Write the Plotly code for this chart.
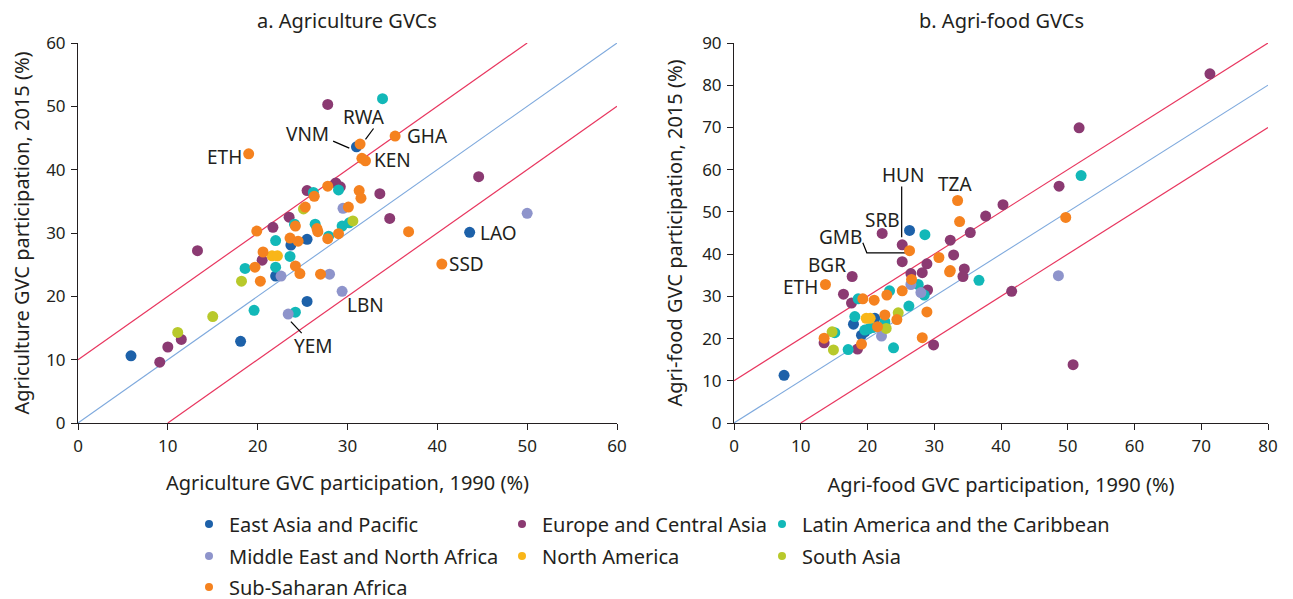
import plotly.graph_objects as go

# ---------------- data ----------------
regions = ["East Asia and Pacific", "Europe and Central Asia", "Latin America and the Caribbean",
           "Middle East and North Africa", "North America", "South Asia", "Sub-Saharan Africa"]
colors = ["#1d61a9", "#8b3a72", "#12b8b8", "#8e94cb", "#f9b619", "#b8c92b", "#f5821f"]

# Panel a: Agriculture GVCs (x = 1990, y = 2015)
a_eap_x = [5.9, 18.1, 25.5, 22.0, 23.7, 25.5, 31.0, 43.6]
a_eap_y = [10.6, 12.9, 19.2, 23.2, 28.1, 29.0, 43.6, 30.1]
a_eca_x = [13.3, 9.1, 10.0, 11.5, 20.5, 21.7, 23.5, 25.5, 28.7, 29.2, 33.6, 34.7, 27.8, 44.6]
a_eca_y = [27.2, 9.6, 12.0, 13.2, 25.7, 30.9, 32.5, 36.7, 37.9, 37.3, 36.2, 32.3, 50.3, 38.9]
a_lac_x = [19.6, 18.6, 22.0, 23.6, 24.2, 22.0, 24.1, 26.4, 27.9, 29.4, 30.2, 26.2, 29.0, 33.9]
a_lac_y = [17.8, 24.4, 24.6, 26.3, 17.5, 28.8, 31.4, 31.4, 29.5, 31.1, 31.6, 36.4, 36.8, 51.2]
a_mena_x = [22.6, 28.0, 29.4, 23.4, 29.5, 50.0]
a_mena_y = [23.2, 23.5, 20.8, 17.2, 33.9, 33.1]
a_na_x = [21.6, 22.2]
a_na_y = [26.4, 26.4]
a_sa_x = [11.1, 15.0, 18.2, 25.1, 30.6]
a_sa_y = [14.3, 16.8, 22.4, 33.8, 31.9]
a_ssa_x = [19.0, 31.4, 31.6, 32.0, 35.3, 27.8, 26.3, 31.3, 31.5, 25.3, 30.1, 24.2, 19.9, 26.6,
           26.7, 29.0, 27.8, 23.6, 24.5, 20.6, 19.7, 20.3, 24.2, 24.7, 27.0, 36.8, 40.5]
a_ssa_y = [42.5, 44.05, 41.8, 41.4, 45.3, 37.4, 35.8, 36.7, 35.5, 34.1, 34.1, 31.1, 30.3, 30.7,
           30.2, 29.9, 29.1, 29.2, 28.7, 27.0, 24.6, 22.4, 24.8, 23.6, 23.5, 30.2, 25.1]

# Panel b: Agri-food GVCs
b_eap_x = [7.5, 17.9, 21.1, 19.1, 19.6, 26.3]
b_eap_y = [11.3, 23.4, 24.8, 20.8, 21.6, 45.6]
b_eca_x = [71.3, 51.7, 48.7, 40.3, 37.7, 35.4, 32.4, 32.9, 34.5, 34.3, 41.6, 50.8, 22.2, 25.2,
           25.2, 28.9, 28.2, 26.5, 29.0, 17.7, 16.4, 17.6, 13.5, 18.5, 29.9]
b_eca_y = [82.7, 69.9, 56.1, 51.7, 49.0, 45.1, 43.3, 39.8, 36.5, 34.7, 31.2, 13.8, 44.9, 42.2,
           38.2, 37.7, 35.6, 35.4, 31.5, 34.7, 30.5, 28.4, 19.0, 17.5, 18.5]
b_lac_x = [52.0, 36.7, 28.6, 27.6, 28.5, 23.3, 18.6, 26.2, 22.6, 18.1, 19.6, 20.2, 20.8, 15.1, 17.1, 23.9]
b_lac_y = [58.6, 33.8, 44.6, 32.8, 30.3, 31.3, 29.4, 27.7, 24.0, 25.2, 22.0, 22.3, 22.6, 21.4, 17.4, 17.8]
b_mena_x = [48.6, 26.5, 28.0, 22.1]
b_mena_y = [34.9, 32.8, 30.9, 20.6]
b_na_x = [19.8, 20.4]
b_na_y = [24.8, 24.8]
b_sa_x = [24.6, 22.8, 14.7, 14.9]
b_sa_y = [26.1, 22.4, 21.6, 17.3]
b_ssa_x = [33.5, 33.8, 49.7, 32.4, 26.3, 30.7, 13.7, 32.3, 26.6, 22.9, 25.2, 21.0, 19.3, 28.9,
           24.4, 22.6, 21.5, 13.5, 19.1, 28.2]
b_ssa_y = [52.7, 47.7, 48.7, 36.1, 40.8, 39.2, 32.8, 35.8, 34.0, 30.3, 31.3, 29.1, 29.4, 26.3,
           24.5, 25.6, 22.8, 20.1, 18.7, 20.2]

# Reference lines (45-degree line and +/-10 pp bands)
a_diag_x, a_diag_y = [0, 60], [0, 60]
a_up_x, a_up_y = [0, 50], [10, 60]
a_lo_x, a_lo_y = [10, 60], [0, 50]
b_diag_x, b_diag_y = [0, 80], [0, 80]
b_up_x, b_up_y = [0, 80], [10, 90]
b_lo_x, b_lo_y = [10, 80], [0, 70]

# Country labels: (text, x, y)
a_labels = [("ETH", 16.3, 42.0), ("VNM", 25.6, 45.7), ("RWA", 31.8, 48.3), ("GHA", 38.9, 45.3),
            ("KEN", 35.0, 41.6), ("LAO", 46.8, 30.05), ("SSD", 43.3, 25.1), ("LBN", 32.0, 18.7),
            ("YEM", 26.2, 12.2)]
a_leaders = [([28.4, 30.2], [44.5, 43.4]), ([32.9, 32.0], [46.5, 44.8]), ([23.7, 24.9], [16.0, 14.2])]
b_labels = [("HUN", 25.3, 58.7), ("TZA", 33.15, 56.5), ("SRB", 22.2, 48.1), ("GMB", 16.0, 44.1),
            ("BGR", 14.0, 37.4), ("ETH", 9.9, 32.3)]
b_leaders = [([25.12, 25.12], [56.0, 44.0]), ([19.3, 19.9, 25.7], [42.7, 40.3, 40.3])]

a_series = [(a_eap_x, a_eap_y), (a_eca_x, a_eca_y), (a_lac_x, a_lac_y), (a_mena_x, a_mena_y),
            (a_na_x, a_na_y), (a_sa_x, a_sa_y), (a_ssa_x, a_ssa_y)]
b_series = [(b_eap_x, b_eap_y), (b_eca_x, b_eca_y), (b_lac_x, b_lac_y), (b_mena_x, b_mena_y),
            (b_na_x, b_na_y), (b_sa_x, b_sa_y), (b_ssa_x, b_ssa_y)]

# ---------------- figure ----------------
OFF = 8                      # default page body margin
W, H = 1293 - OFF, 599 - OFF + 24   # extra height below the window keeps the legend inside the paper
FONT = "Noto Sans"
TXT = "#231f20"
RED = "#e8365f"
BLUE_LINE = "#7ea9dd"

def px(x):
    return (x - OFF) / W

def py(y):
    return 1 - (y - OFF) / H

fig = go.Figure()

def add_lines(xa, ya, diag, up, lo):
    for (lx, ly), col, w in [(diag, BLUE_LINE, 1.1), (up, RED, 1.2), (lo, RED, 1.2)]:
        fig.add_trace(go.Scatter(x=lx, y=ly, mode="lines", line=dict(color=col, width=w),
                                 xaxis=xa, yaxis=ya, showlegend=False, hoverinfo="skip"))

add_lines("x", "y", (a_diag_x, a_diag_y), (a_up_x, a_up_y), (a_lo_x, a_lo_y))
add_lines("x2", "y2", (b_diag_x, b_diag_y), (b_up_x, b_up_y), (b_lo_x, b_lo_y))

for lx, ly in a_leaders:
    fig.add_trace(go.Scatter(x=lx, y=ly, mode="lines", line=dict(color="#000000", width=1.2),
                             xaxis="x", yaxis="y", showlegend=False, hoverinfo="skip"))
for lx, ly in b_leaders:
    fig.add_trace(go.Scatter(x=lx, y=ly, mode="lines", line=dict(color="#000000", width=1.2),
                             xaxis="x2", yaxis="y2", showlegend=False, hoverinfo="skip"))

for i, name in enumerate(regions):
    ax, ay = a_series[i]
    bx, by = b_series[i]
    fig.add_trace(go.Scatter(x=ax, y=ay, mode="markers", name=name, xaxis="x", yaxis="y",
                             marker=dict(color=colors[i], size=11, line=dict(width=0)),
                             showlegend=False))
    fig.add_trace(go.Scatter(x=bx, y=by, mode="markers", name=name, xaxis="x2", yaxis="y2",
                             marker=dict(color=colors[i], size=11, line=dict(width=0)),
                             showlegend=False))

# legend entries: one legend per entry to mimic the 3-column table layout
legend_pos = [(189, 524), (502, 524), (762, 524), (189, 556), (502, 556), (762, 556), (189, 587)]
legend_layouts = {}
for i, name in enumerate(regions):
    key = "legend" if i == 0 else f"legend{i+1}"
    fig.add_trace(go.Scatter(x=[None], y=[None], mode="markers", name=name,
                             marker=dict(color=colors[i], size=8), legend=key, showlegend=True,
                             xaxis="x", yaxis="y"))
    lx, ly = legend_pos[i]
    legend_layouts[key] = dict(x=px(lx), y=py(ly), xanchor="left", yanchor="middle",
                               bgcolor="rgba(0,0,0,0)", borderwidth=0,
                               font=dict(family=FONT, size=20, color=TXT))

axis_common = dict(showgrid=False, zeroline=False, showline=True, linecolor="#231f20", linewidth=1,
                   ticks="outside", ticklen=6, tickcolor="#231f20", tickwidth=1,
                   tickfont=dict(family=FONT, size=17, color=TXT), automargin=False)

ydom = [py(423), py(43)]
title_font = dict(family=FONT, size=20, color=TXT)

fig.update_layout(
    width=W, height=H,
    margin=dict(l=0, r=0, t=0, b=0),
    paper_bgcolor="white", plot_bgcolor="white",
    font=dict(family=FONT, color=TXT),
    xaxis=dict(domain=[px(78), px(617)], range=[0, 60], dtick=10, anchor="y", ticklabelstandoff=2,
               title=dict(text="Agriculture GVC participation, 1990 (%)", standoff=19,
                          font=title_font), **axis_common),
    yaxis=dict(domain=ydom, range=[0, 60], dtick=10, anchor="x", ticklabelstandoff=2,
               title=dict(text="Agriculture GVC participation, 2015 (%)", standoff=14,
                          font=title_font), **axis_common),
    xaxis2=dict(domain=[px(734), px(1268)], range=[0, 80], dtick=10, anchor="y2", ticklabelstandoff=2,
                title=dict(text="Agri-food GVC participation, 1990 (%)", standoff=21,
                           font=title_font), **axis_common),
    yaxis2=dict(domain=ydom, range=[0, 90], dtick=10, anchor="x2", ticklabelstandoff=2,
                title=dict(text="Agri-food GVC participation, 2015 (%)", standoff=14,
                           font=title_font), **axis_common),
    **legend_layouts,
)

annotations = [
    dict(text="a. Agriculture GVCs", x=px(347), y=1, xref="paper", yref="paper", yshift=3,
         showarrow=False, xanchor="center", yanchor="top", font=title_font),
    dict(text="b. Agri-food GVCs", x=px(1001), y=1, xref="paper", yref="paper", yshift=3,
         showarrow=False, xanchor="center", yanchor="top", font=title_font),
]
for t, x, y in a_labels:
    annotations.append(dict(text=t, x=x, y=y, xref="x", yref="y", showarrow=False,
                            font=dict(family=FONT, size=19, color=TXT)))
for t, x, y in b_labels:
    annotations.append(dict(text=t, x=x, y=y, xref="x2", yref="y2", showarrow=False,
                            font=dict(family=FONT, size=19, color=TXT)))
fig.update_layout(annotations=annotations)

fig.write_html("out.html")
